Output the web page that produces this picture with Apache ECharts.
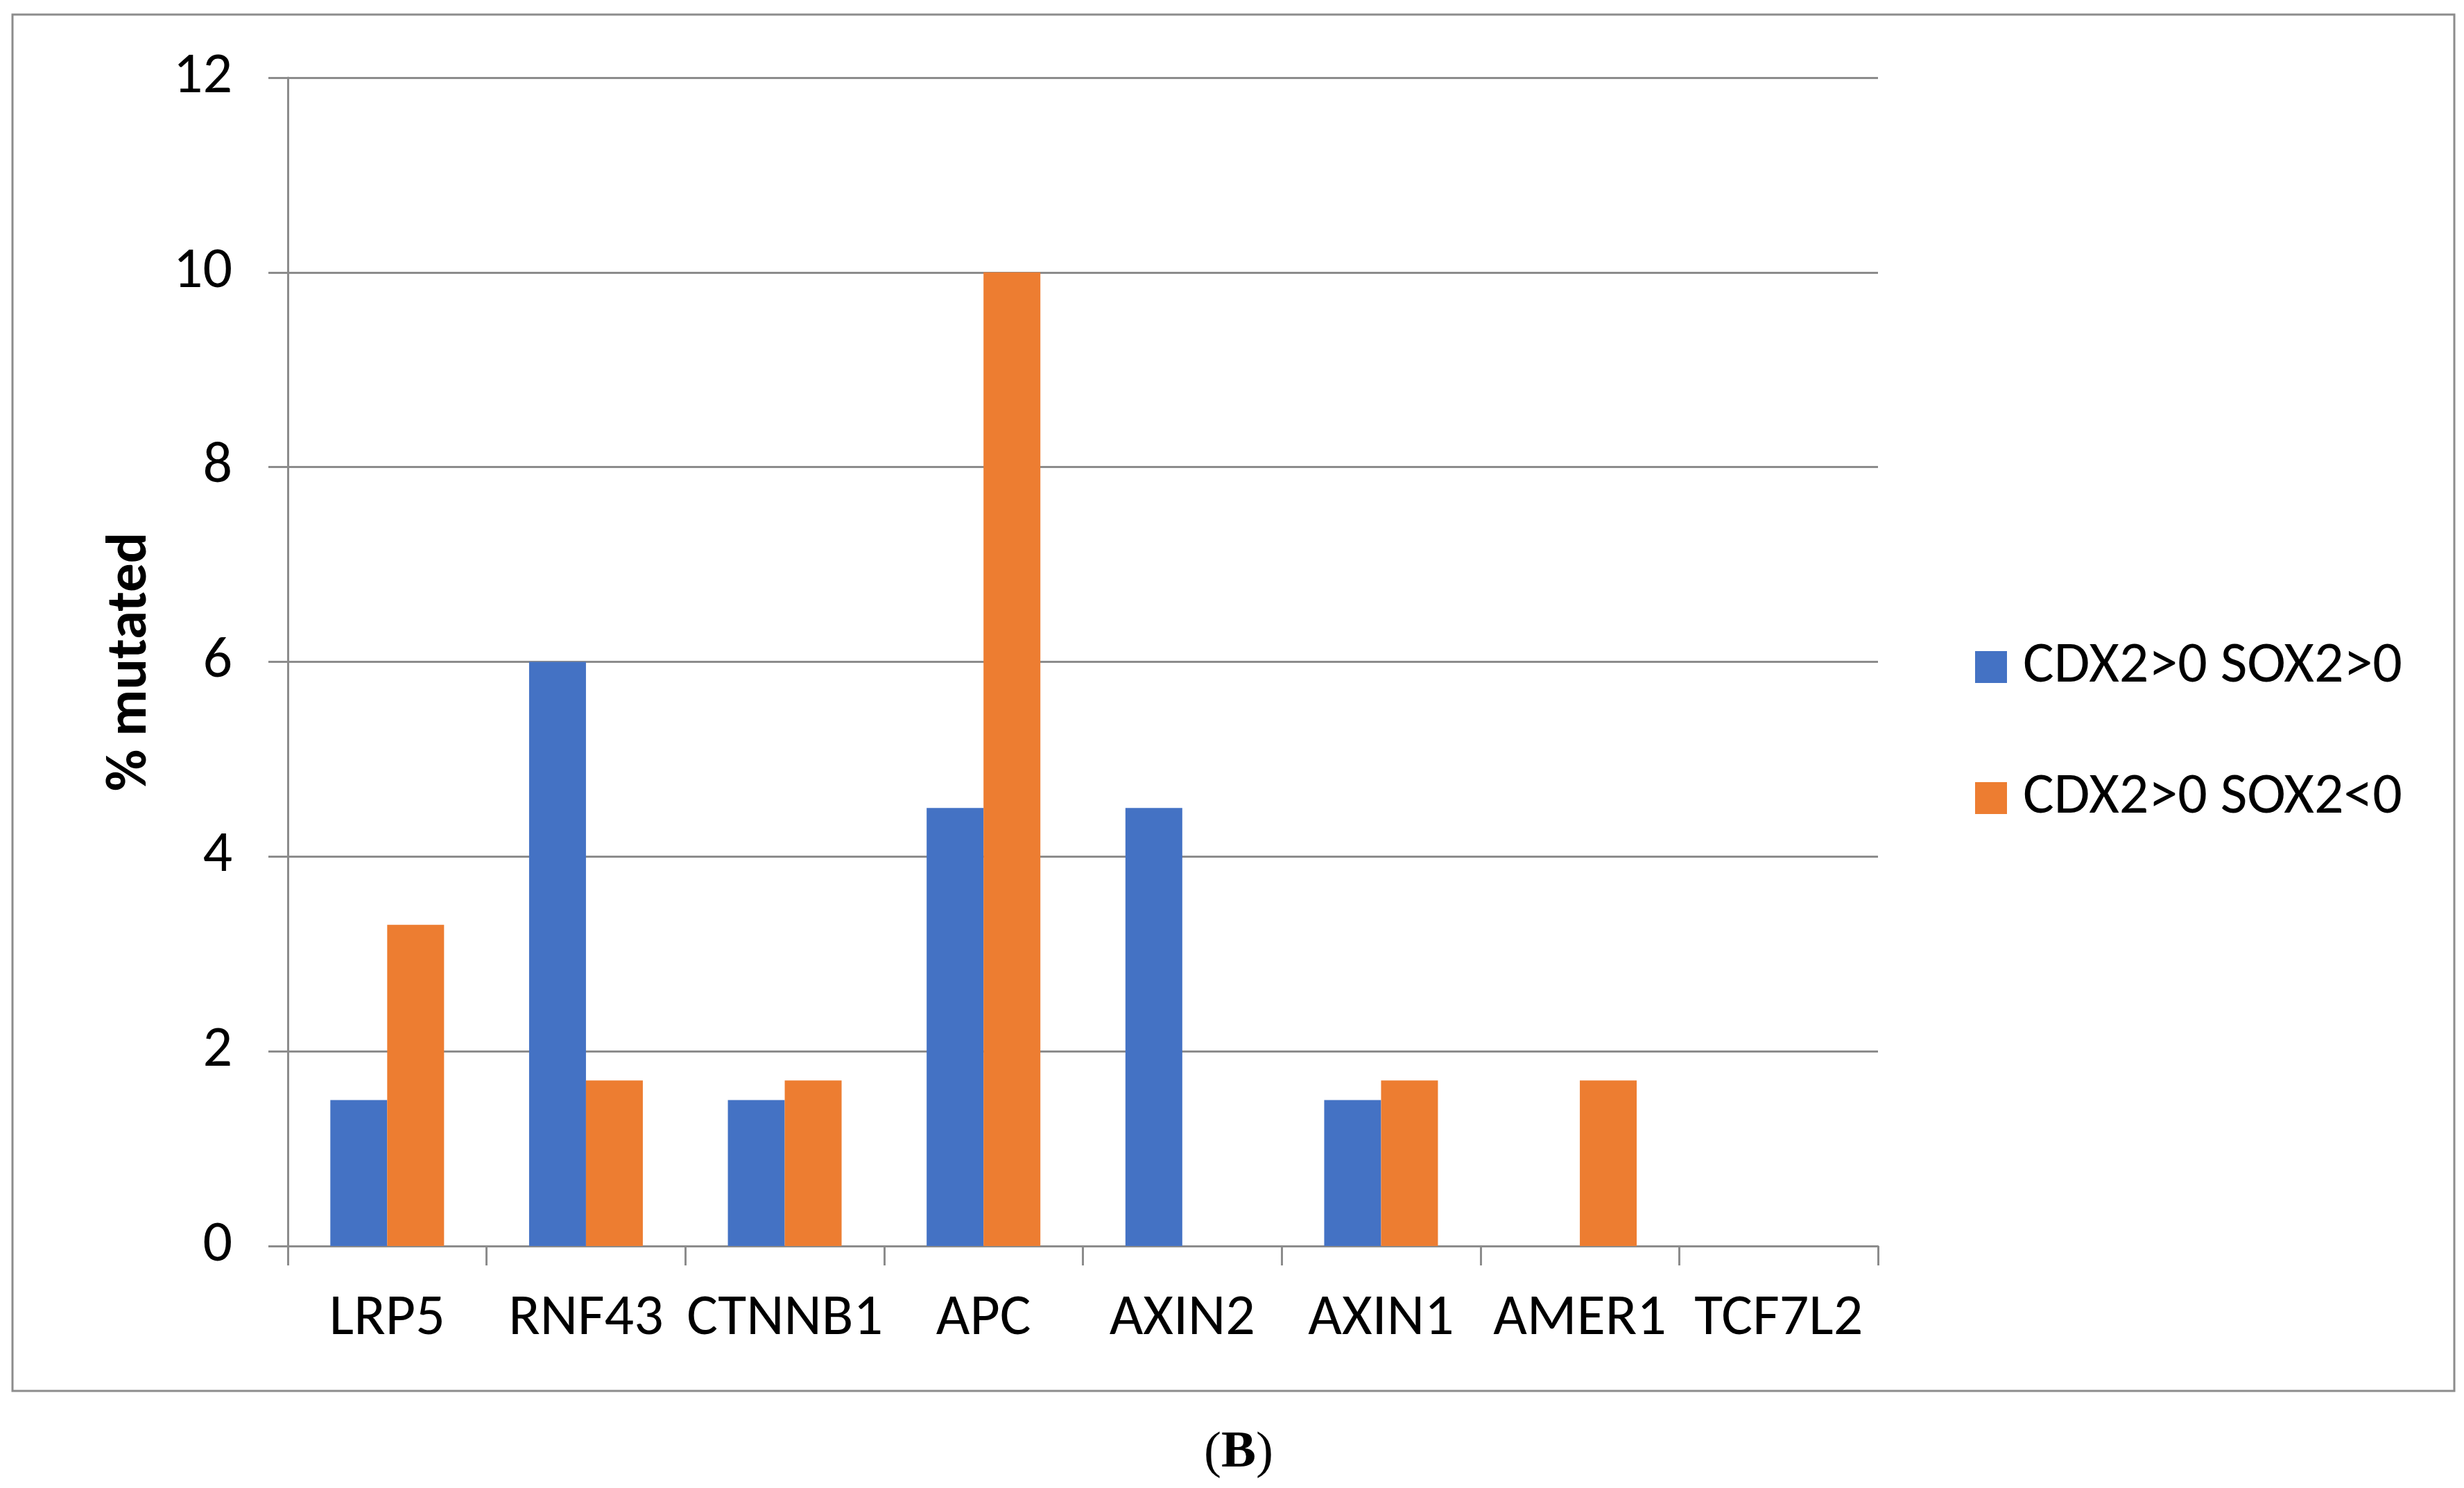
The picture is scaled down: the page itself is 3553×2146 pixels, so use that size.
<!DOCTYPE html>
<html>
<head>
<meta charset="utf-8">
<script src="https://cdn.jsdelivr.net/npm/echarts@6/dist/echarts.min.js"></script>
<style>
html,body{margin:0;padding:0;background:#fff;}
#chart{width:3553px;height:2146px;}
</style>
</head>
<body>
<div id="chart"></div>
<script>
const categories = ['LRP5', 'RNF43', 'CTNNB1', 'APC', 'AXIN2', 'AXIN1', 'AMER1', 'TCF7L2'];
const seriesNames = ['CDX2>0 SOX2>0', 'CDX2>0 SOX2<0'];
const posValues = [1.5, 6, 1.5, 4.5, 4.5, 1.5, 0, 0];
const negValues = [3.3, 1.7, 1.7, 10, 0, 1.7, 1.7, 0];
const yTicks = [0, 2, 4, 6, 8, 10, 12];
const yAxisTitle = '% mutated';
const caption = 'B';

const FONT = 'Carlito, "Open Sans", Lato, "Liberation Sans", sans-serif';
const GRAY = '#8c8c8c';

const chart = echarts.init(document.getElementById('chart'));
chart.setOption({
  backgroundColor: '#ffffff',
  animation: false,
  textStyle: { fontFamily: FONT },
  grid: { left: 415, top: 112, right: 845, bottom: 349, containLabel: false },
  legend: {
    orient: 'vertical',
    left: 2843,
    top: 915,
    itemWidth: 46,
    itemHeight: 46,
    itemGap: 105,
    icon: 'rect',
    data: seriesNames,
    textStyle: { fontFamily: FONT, fontSize: 84, color: '#000', lineHeight: 46, padding: [0, 0, 0, 18] }
  },
  xAxis: {
    type: 'category',
    data: categories,
    axisLine: { show: true, lineStyle: { color: GRAY, width: 3 } },
    axisTick: { show: true, length: 28, lineStyle: { color: GRAY, width: 3 } },
    axisLabel: { fontFamily: FONT, fontSize: 84, color: '#000', margin: 106, verticalAlign: 'middle', interval: 0 },
    splitLine: { show: false }
  },
  yAxis: {
    type: 'value',
    min: yTicks[0],
    max: yTicks[yTicks.length - 1],
    interval: yTicks[1] - yTicks[0],
    name: yAxisTitle,
    nameLocation: 'middle',
    nameGap: 184,
    nameRotate: 90,
    nameTextStyle: { fontFamily: FONT, fontSize: 83, fontWeight: 'bold', color: '#000' },
    axisLine: { show: true, lineStyle: { color: GRAY, width: 3 } },
    axisTick: { show: true, length: 28, lineStyle: { color: GRAY, width: 3 } },
    axisLabel: { fontFamily: FONT, fontSize: 84, color: '#000', margin: 80 },
    splitLine: { show: true, lineStyle: { color: GRAY, width: 3 } }
  },
  series: [
    { name: seriesNames[0], type: 'bar', data: posValues, barWidth: 82, barGap: '0%', itemStyle: { color: '#4472C4' } },
    { name: seriesNames[1], type: 'bar', data: negValues, barWidth: 82, barGap: '0%', itemStyle: { color: '#ED7D31' } }
  ],
  graphic: [
    {
      type: 'rect',
      shape: { x: 18, y: 21, width: 3521, height: 1985 },
      style: { fill: null, stroke: GRAY, lineWidth: 3 },
      silent: true
    },
    {
      type: 'text',
      x: 1786,
      y: 2096,
      style: {
        text: '({b|' + caption + '})',
        fontFamily: '"Liberation Serif", serif',
        fontSize: 75,
        fill: '#000',
        align: 'center',
        verticalAlign: 'middle',
        rich: { b: { fontFamily: '"Liberation Serif", serif', fontSize: 75, fontWeight: 'bold', fill: '#000' } }
      }
    }
  ]
});
</script>
</body>
</html>
